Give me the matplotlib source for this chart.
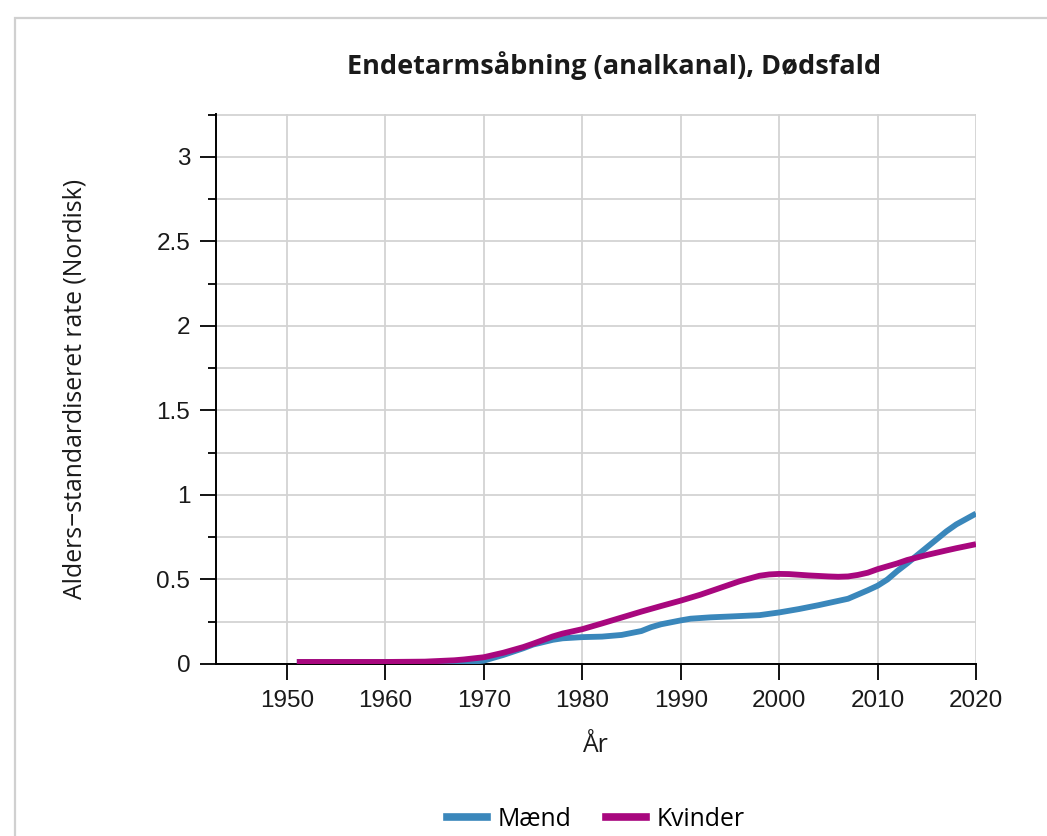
import matplotlib
matplotlib.use("Agg")
import matplotlib.pyplot as plt
from matplotlib.patches import Rectangle
from matplotlib.lines import Line2D

title = "Endetarmsåbning (analkanal), Dødsfald"
ylabel = "Alders\u2212standardiseret rate (Nordisk)"
xlabel = "År"
series_names = ["Mænd", "Kvinder"]
colors = ["#3a87bb", "#a8077e"]

years_m = [1951, 1955, 1960, 1964, 1967, 1969, 1970, 1972, 1974, 1975, 1977, 1978,
           1980, 1982, 1984, 1986, 1987, 1988, 1990, 1991, 1993, 1995, 1998, 2000,
           2002, 2004, 2007, 2009, 2010, 2011, 2012, 2013, 2015, 2017, 2018, 2020]
men = [0.012, 0.012, 0.012, 0.012, 0.012, 0.014, 0.02, 0.054, 0.093, 0.115, 0.143, 0.152,
       0.159, 0.162, 0.172, 0.195, 0.218, 0.235, 0.258, 0.268, 0.276, 0.281, 0.289, 0.305,
       0.325, 0.348, 0.386, 0.436, 0.463, 0.50, 0.55, 0.595, 0.69, 0.785, 0.826, 0.89]

years_w = [1951, 1955, 1960, 1964, 1967, 1968, 1970, 1972, 1974, 1975, 1977, 1978,
           1980, 1982, 1984, 1986, 1988, 1990, 1992, 1993, 1995, 1996, 1998, 1999,
           2000, 2001, 2003, 2005, 2006, 2007, 2008, 2009, 2010, 2012, 2013, 2015,
           2017, 2018, 2020]
women = [0.012, 0.012, 0.012, 0.014, 0.022, 0.027, 0.04, 0.067, 0.10, 0.12, 0.163, 0.18,
         0.206, 0.24, 0.275, 0.31, 0.343, 0.375, 0.41, 0.43, 0.47, 0.49, 0.522, 0.53,
         0.533, 0.532, 0.524, 0.518, 0.516, 0.518, 0.527, 0.54, 0.561, 0.595, 0.615, 0.645,
         0.672, 0.685, 0.709]

xticks = [1950, 1960, 1970, 1980, 1990, 2000, 2010, 2020]
yticks = [0, 0.5, 1, 1.5, 2, 2.5, 3]
yticklabels = ["0", "0.5", "1", "1.5", "2", "2.5", "3"]

W, H = 1047, 836
fig = plt.figure(figsize=(W / 100, H / 100), dpi=100)
fig.patch.set_facecolor("white")

# outer panel border
fig.add_artist(Rectangle((15 / W, -0.1), 1.2, 1 - 18 / H + 0.1, transform=fig.transFigure,
                         fill=False, edgecolor="#d0d0d0", linewidth=1.6))

left, right, top, bottom = 216, 976, 114, 664
ax = fig.add_axes([left / W, 1 - bottom / H, (right - left) / W, (bottom - top) / H])

ax.plot(years_m, men, color=colors[0], lw=4.2, solid_capstyle="butt",
        solid_joinstyle="round", zorder=3)
ax.plot(years_w, women, color=colors[1], lw=4.2, solid_capstyle="butt",
        solid_joinstyle="round", zorder=4)

x0 = 1950 - (287 - 216) / (689 / 70)
ax.set_xlim(x0, 2020)
ax.set_ylim(0, 3.254)

ax.set_xticks(xticks)
ax.set_xticklabels([str(t) for t in xticks])
ax.set_yticks(yticks)
ax.set_yticklabels(yticklabels)
ax.set_yticks([0.25, 0.75, 1.25, 1.75, 2.25, 2.75, 3.25], minor=True)

for s in ["top", "right"]:
    ax.spines[s].set_visible(False)
for s in ["left", "bottom"]:
    ax.spines[s].set_linewidth(1.4)
    ax.spines[s].set_color("black")

ax.grid(True, which="both", color="#d3d3d3", linewidth=1.3, zorder=0)
ax.set_axisbelow(True)

ax.tick_params(axis="both", which="major", length=11.5, width=1.3, color="black",
               labelsize=17.5, labelcolor="#1a1a1a", pad=7)
ax.tick_params(axis="y", which="minor", length=6, width=1.3, color="black")
for lab in ax.get_xticklabels() + ax.get_yticklabels():
    lab.set_fontfamily(["Liberation Sans", "DejaVu Sans"])

fig.text(614 / W, 1 - 66 / H, title, ha="center", va="center", fontsize=19.5,
         fontweight="bold", family=["Open Sans", "DejaVu Sans"], color="#1a1a1a")
fig.text(75 / W, 1 - 389 / H, ylabel, rotation=90, ha="center", va="center",
         fontsize=17.8, family=["Open Sans", "DejaVu Sans"], color="#1a1a1a")
fig.text(596 / W, 1 - 746 / H, xlabel, ha="center", va="center",
         fontsize=17.8, family=["Open Sans", "DejaVu Sans"], color="#1a1a1a")

handles = [Line2D([0], [0], color=c, lw=5.5) for c in colors]
fig.legend(handles, series_names, loc="center", bbox_to_anchor=(596 / W, 1 - 819 / H),
           ncol=2, frameon=False, handlelength=1.6, handletextpad=0.45, columnspacing=1.4,
           prop={"family": ["Open Sans", "DejaVu Sans"], "size": 17.8})

fig.savefig("out.png", dpi=100, facecolor="white")
